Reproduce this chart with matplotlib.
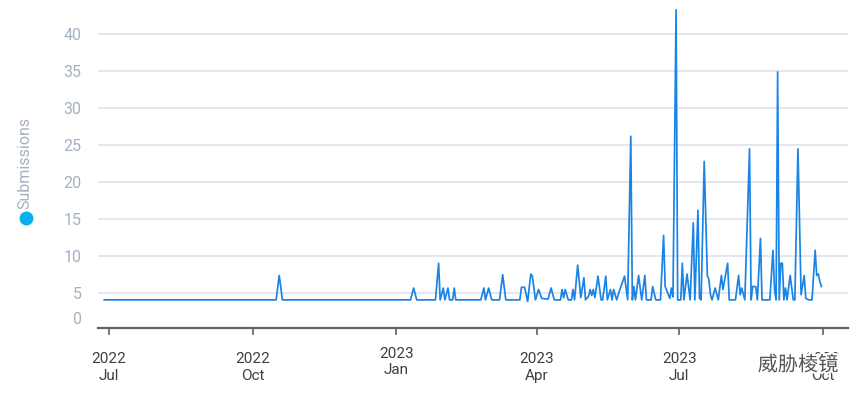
import matplotlib
matplotlib.use('Agg')
import matplotlib.pyplot as plt
import matplotlib.patheffects as pe
import matplotlib.transforms as mtrans
import pandas as pd

B = 4.1  # flat level the line sits on

dates = [
    "2022-06-28", "2022-10-16", "2022-10-18", "2022-10-20",
    "2023-01-10", "2023-01-12", "2023-01-14",
    "2023-01-26", "2023-01-28", "2023-01-29", "2023-01-31", "2023-02-01", "2023-02-03", "2023-02-04",
    "2023-02-06", "2023-02-07", "2023-02-08",
    "2023-02-24", "2023-02-26", "2023-02-27", "2023-03-01", "2023-03-03",
    "2023-03-08", "2023-03-10", "2023-03-12",
    "2023-03-21", "2023-03-22", "2023-03-24", "2023-03-26", "2023-03-28", "2023-03-29", "2023-03-31",
    "2023-04-02", "2023-04-04", "2023-04-08", "2023-04-10", "2023-04-12",
    "2023-04-16", "2023-04-17", "2023-04-18", "2023-04-19", "2023-04-21",
    "2023-04-23", "2023-04-24", "2023-04-25", "2023-04-27", "2023-04-29", "2023-05-01", "2023-05-02",
    "2023-05-04", "2023-05-05", "2023-05-06", "2023-05-07", "2023-05-08", "2023-05-10", "2023-05-12",
    "2023-05-13", "2023-05-15", "2023-05-16", "2023-05-18", "2023-05-19", "2023-05-20", "2023-05-21",
    "2023-05-22",
    "2023-05-24", "2023-05-27", "2023-05-29", "2023-05-31", "2023-06-01", "2023-06-02", "2023-06-03",
    "2023-06-05", "2023-06-07", "2023-06-09", "2023-06-10", "2023-06-13", "2023-06-14", "2023-06-16",
    "2023-06-19", "2023-06-21", "2023-06-22", "2023-06-25", "2023-06-26", "2023-06-27", "2023-06-29",
    "2023-06-30",
    "2023-07-02", "2023-07-03", "2023-07-04", "2023-07-06", "2023-07-08", "2023-07-10", "2023-07-11",
    "2023-07-13", "2023-07-14", "2023-07-15",
    "2023-07-17", "2023-07-19", "2023-07-20", "2023-07-21", "2023-07-22", "2023-07-24", "2023-07-26",
    "2023-07-28", "2023-07-29", "2023-08-01", "2023-08-02",
    "2023-08-06", "2023-08-08", "2023-08-09", "2023-08-10", "2023-08-12", "2023-08-15", "2023-08-16",
    "2023-08-17", "2023-08-19", "2023-08-20", "2023-08-22", "2023-08-23",
    "2023-08-28", "2023-08-30", "2023-08-31", "2023-09-01", "2023-09-02", "2023-09-03", "2023-09-04",
    "2023-09-05", "2023-09-06",
    "2023-09-07", "2023-09-08", "2023-09-10", "2023-09-12",
    "2023-09-13", "2023-09-15", "2023-09-17", "2023-09-19", "2023-09-20", "2023-09-22",
    "2023-09-24", "2023-09-26", "2023-09-27", "2023-09-28", "2023-09-29", "2023-09-30",
]

submissions = [
    B, B, 7.4, B,
    B, 5.7, B,
    B, 9.05, B, 5.7, B, 5.7, B,
    B, 5.7, B,
    B, 5.7, B, 5.7, B,
    B, 7.5, B,
    B, 5.8, 5.8, 3.9, 7.6, 7.3, B,
    5.5, 4.3, 4.2, 5.7, B,
    B, 5.5, 4.4, 5.5, B,
    B, 5.5, B, 8.8, 4.4, 7.1, B,
    4.6, 5.5, 4.7, 5.5, 4.4, 7.3, B,
    B, 7.3, B, 5.5, B, 5.5, 4.8,
    B,
    5.5, 7.3, B, 26.2, B, 5.9, B,
    7.4, B, 7.4, B, B, 5.9, B,
    B, 12.8, 5.9, 4.3, 5.7, 4.5, 43.3,
    B,
    B, 9.05, B, 7.6, B, 14.5, B,
    16.2, 4.3, B,
    22.8, 7.4, 6.8, 4.8, B, 5.7, B,
    7.4, 5.5, 9.05, B,
    B, 7.4, 4.8, 5.7, B, 24.5, B,
    5.9, 5.9, B, 12.4, B,
    B, 10.8, 5.5, B, 34.9, B, 9.05,
    9.05, B,
    5.7, B, 7.4, B,
    B, 24.5, 4.8, 7.4, 4.3, B,
    B, 10.8, 7.4, 7.6, 6.6, 5.9,
]

tick_dates = ["2022-07-01", "2022-10-01", "2023-01-01", "2023-04-01", "2023-07-01", "2023-10-01"]
tick_labels = ["2022\nJul", "2022\nOct", "2023\nJan", "2023\nApr", "2023\nJul", "2023\nOct"]

y_ticks = [1.66, 5, 10, 15, 20, 25, 30, 35, 40]
y_labels = ["0", "5", "10", "15", "20", "25", "30", "35", "40"]

plt.rcParams['font.family'] = ['Roboto', 'DejaVu Sans']

fig = plt.figure(figsize=(8.65, 4.0), dpi=100)
ax = fig.add_axes([0.1133, 0.18, 0.867, 0.814])

x = pd.to_datetime(dates)
ax.plot(x, submissions, color='#1a84e6', lw=1.25)

ax.set_xlim(pd.Timestamp("2022-06-24"), pd.Timestamp("2023-10-17"))
ax.set_ylim(0.3, 44.3)

ax.set_xticks(pd.to_datetime(tick_dates))
ax.set_xticklabels(tick_labels, color='#3c4043', fontsize=11, linespacing=1.35)
ax.set_yticks(y_ticks)
ax.set_yticklabels(y_labels, color='#a3b1c2', fontsize=11.5)

ax.tick_params(axis='x', length=5, width=1.2, color='#5f6368', pad=12)
ax.tick_params(axis='y', length=0, pad=12)

# the Jan label sits a bit higher and tighter in the original
jan = ax.get_xticklabels()[2]
jan.set_linespacing(1.1)
jan.set_transform(jan.get_transform() + mtrans.ScaledTranslation(0, 3 / 72, fig.dpi_scale_trans))

ax.grid(axis='y', color='#e4e8ee', lw=1.4)
ax.yaxis.get_gridlines()[0].set_visible(False)
ax.set_axisbelow(True)

for s in ['top', 'right', 'left']:
    ax.spines[s].set_visible(False)
ax.spines['bottom'].set_color('#5f6368')
ax.spines['bottom'].set_linewidth(1.6)

# legend-like y title
fig.text(0.029, 0.4775, 'Submissions', rotation=90, ha='center', va='bottom',
         color='#a3b1c2', fontsize=11.5)
fig.lines.append(plt.Line2D([0.0295], [0.455], transform=fig.transFigure, marker='o',
                            markersize=9, color='#0ab0f0', linestyle='none'))

# watermark
fig.text(0.876, 0.087, '威胁棱镜', ha='left', va='center', fontsize=14.5,
         color='#555555', family=['Noto Sans CJK SC', 'DejaVu Sans'],
         path_effects=[pe.withStroke(linewidth=3, foreground='white')])

fig.savefig('out.png', dpi=100)
